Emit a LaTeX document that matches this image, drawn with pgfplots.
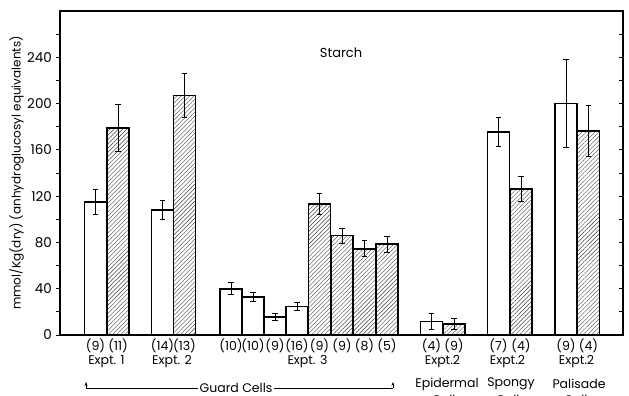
\documentclass[border=0pt]{standalone}
\usepackage{fontspec}
\setmainfont{Poppins}
\usepackage{pgfplots}
\usepackage{pgfplotstable}
\pgfplotsset{compat=1.18}
\usetikzlibrary{patterns.meta,arrows.meta}

\pgfplotstableread{
x y e
35.5 115 11
102.5 108 8
171 40 5
193 33 4
215 15.5 3
237 24.5 3.5
371.5 11.5 7
438.5 175.5 12.5
506 200 38
}\whitebars

\pgfplotstableread{
x y e
58 179 20
124.5 207 19
259.5 113 9
282 86 6.5
304.5 74.5 7
327 78.5 7
394 9.5 5
461 126 11
528.5 176.5 22
}\hatchbars

\newcommand{\nlab}[2]{\node[inner sep=0pt] at ([yshift=-10.5pt]axis cs:#1,0) {#2};}
\newcommand{\elab}[2]{\node[inner sep=0pt] at ([yshift=-27pt]axis cs:#1,0) {#2};}
\newcommand{\clab}[2]{\node[inner sep=0pt] at ([yshift=-49pt]axis cs:#1,0) {#2};
  \node[inner sep=0pt] at ([yshift=-65pt]axis cs:#1,0) {Cells};}

\begin{document}
\begin{tikzpicture}
\useasboundingbox (0,0) rectangle (629pt,396pt);
\begin{axis}[
  at={(60pt,61pt)}, anchor=south west,
  scale only axis, width=563pt, height=324pt,
  xmin=0, xmax=563, ymin=0, ymax=280,
  xtick=\empty,
  ytick={0,40,...,240}, minor ytick={20,60,...,260},
  ytick pos=left, tick align=outside,
  major tick length=4pt, minor tick length=4pt,
  every tick/.style={black, line width=0.8pt},
  axis line style={line width=1.1pt},
  /pgf/number format/assume math mode=true,
  yticklabel style={font=\fontsize{13.5}{15}\selectfont, xshift=-0.5pt},
  every axis y label/.style={at={(axis description cs:-0.077,0.5)}, rotate=90, anchor=center, font=\fontsize{12}{14}\selectfont},
  ylabel={mmol/Kg(dry) (anhydroglucosyl equivalents)},
  clip=false,
  ybar, bar shift=0pt, bar width=22.3,
  error bars/y dir=both, error bars/y explicit,
  error bars/error mark=|,
  error bars/error bar style={line width=0.9pt, black},
  error bars/error mark options={line width=0.9pt, mark size=2.8pt, black},
  font=\fontsize{12.5}{14}\selectfont,
]
\addplot[draw=black, line width=1.6pt, fill=white] table[x=x, y=y, y error=e] {\whitebars};
\addplot[draw=black, line width=1.6pt, pattern={Lines[angle=45, distance=3pt, line width=0.4pt]}, pattern color=black!75] table[x=x, y=y, y error=e] {\hatchbars};

\node[font=\fontsize{13}{15}\selectfont] at (axis cs:281,244) {Starch};

\nlab{35.5}{(9)} \nlab{58}{(11)} \nlab{102.5}{(14)} \nlab{124.5}{(13)}
\nlab{171}{(10)} \nlab{193}{(10)} \nlab{215}{(9)} \nlab{237}{(16)}
\nlab{259.5}{(9)} \nlab{282}{(9)} \nlab{304.5}{(8)} \nlab{327}{(5)}
\nlab{371.5}{(4)} \nlab{394}{(9)} \nlab{438.5}{(7)} \nlab{461}{(4)}
\nlab{506}{(9)} \nlab{528.5}{(4)}
\elab{46.5}{Expt. 1} \elab{112}{Expt. 2} \elab{247.5}{Expt. 3}
\elab{382.5}{Expt.2} \elab{447.5}{Expt.2} \elab{516.5}{Expt.2}
\clab{387}{Epidermal} \clab{451}{Spongy} \clab{519}{Palisade}
\draw[line width=0.8pt] ([yshift=-53pt]axis cs:26,0) -- ([yshift=-53pt]axis cs:333,0);
\draw[line width=0.8pt, -{Stealth[length=4pt,width=3pt]}] ([yshift=-53pt]axis cs:26,0) -- ([yshift=-47pt]axis cs:26,0);
\draw[line width=0.8pt, -{Stealth[length=4pt,width=3pt]}] ([yshift=-53pt]axis cs:333,0) -- ([yshift=-47pt]axis cs:333,0);
\node[fill=white, inner xsep=1.5pt, inner ysep=1pt] at ([yshift=-53pt]axis cs:176,0) {Guard Cells};
\end{axis}
\begin{axis}[
  at={(60pt,61pt)}, anchor=south west,
  scale only axis, width=563pt, height=324pt,
  xmin=0, xmax=563, ymin=0, ymax=280,
  axis x line=none, axis y line*=right,
  ytick={0,40,...,240}, minor ytick={20,60,...,260},
  yticklabels={}, tick align=inside,
  major tick length=4pt, minor tick length=4pt,
  every tick/.style={black, line width=0.8pt},
  axis line style={line width=1.1pt},
]
\addplot[draw=none] coordinates {(0,0)};
\end{axis}
\end{tikzpicture}
\end{document}
